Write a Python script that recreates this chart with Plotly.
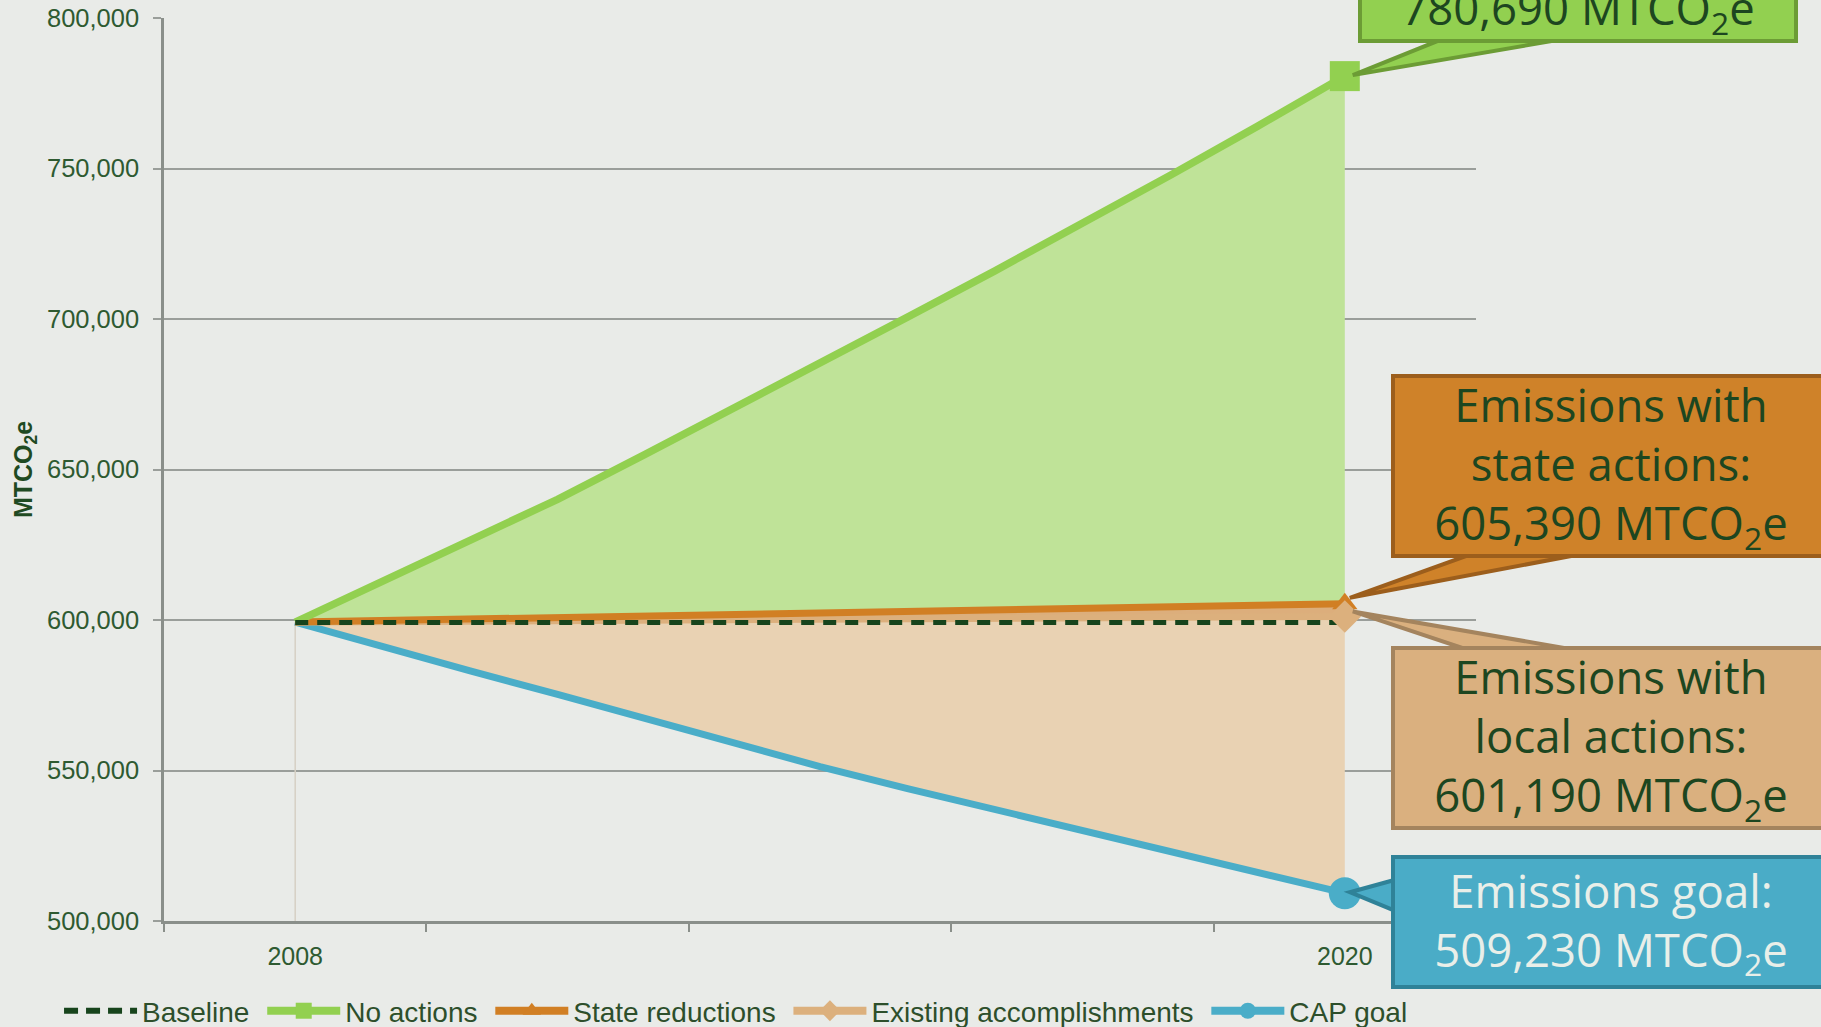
import plotly.graph_objects as go

# ---------------- data ----------------
years = [2008, 2009, 2010, 2011, 2012, 2013, 2014, 2015, 2016, 2017, 2018, 2019, 2020]
x_categories = [2007, 2008, 2009, 2010, 2011, 2012, 2013, 2014, 2015, 2016, 2017, 2018, 2019, 2020, 2021]
x_labels = ["2008", "2020"]

baseline = [599200, 599200, 599200, 599200, 599200, 599200, 599200, 599200, 599200, 599200, 599200, 599200, 599200]
no_actions = [599300, 612800, 626400, 640100, 655000, 670000, 685200, 700600, 716000, 731500, 747700, 764000, 780690]
state_reductions = [599300, 599800, 600300, 600800, 601400, 601900, 602400, 602900, 603400, 603900, 604400, 604900, 605390]
existing = [599300, 599450, 599600, 599800, 599950, 600100, 600250, 600400, 600550, 600700, 600850, 601000, 601190]
cap_goal = [599300, 591000, 583100, 575300, 567200, 559200, 551300, 544000, 537000, 530100, 523000, 516100, 509230]

y_ticks = [500000, 550000, 600000, 650000, 700000, 750000, 800000]

series_names = ["Baseline", "No actions", "State reductions", "Existing accomplishments", "CAP goal"]

callout_texts = [
    "Emissions with<br>no actions:<br>780,690 MTCO<sub>2</sub>e",
    "Emissions with<br>state actions:<br>605,390 MTCO<sub>2</sub>e",
    "Emissions with<br>local actions:<br>601,190 MTCO<sub>2</sub>e",
    "Emissions goal:<br>509,230 MTCO<sub>2</sub>e",
]

# ---------------- styles ----------------
BG = "#e9ebe8"
GREEN = "#92d050"
GREEN_FILL = "#bfe398"
ORANGE = "#d17f24"
TAN = "#dcb07d"
TAN_FILL = "#dcae7c"
BEIGE_FILL = "#e9d2b3"
BLUE = "#4aadc8"
DARK = "#17441c"
GRID = "#9a9e9a"
AXIS = "#8a8f8a"
TICK_TXT = "#2e5a31"
TXT_DARK = "#1d4620"

x_range = [x_categories[0] - 0.5, x_categories[-1] + 0.5]
y_range = [y_ticks[0], y_ticks[-1]]


def to_paper_x(v):
    return (v - x_range[0]) / (x_range[1] - x_range[0])


def to_paper_y(v):
    return (v - y_range[0]) / (y_range[1] - y_range[0])


fig = go.Figure()

# faint drop line at the first year
fig.add_trace(go.Scatter(x=[years[0], years[0]], y=[y_ticks[0], cap_goal[0]], mode="lines",
                         line=dict(color="#d6d0c4", width=1.5), showlegend=False, hoverinfo="skip"))
# CAP goal line (bottom of stacked fills)
fig.add_trace(go.Scatter(x=years, y=cap_goal, mode="lines", line=dict(color=BLUE, width=7),
                         showlegend=False, hoverinfo="skip"))
# Existing accomplishments (fill down to CAP goal)
fig.add_trace(go.Scatter(x=years, y=existing, mode="lines", line=dict(color=TAN, width=7),
                         fill="tonexty", fillcolor=BEIGE_FILL, showlegend=False, hoverinfo="skip"))
# State reductions (fill down to existing)
fig.add_trace(go.Scatter(x=years, y=state_reductions, mode="lines", line=dict(color=ORANGE, width=7),
                         fill="tonexty", fillcolor=TAN_FILL, showlegend=False, hoverinfo="skip"))
# No actions (fill down to state reductions)
fig.add_trace(go.Scatter(x=years, y=no_actions, mode="lines", line=dict(color=GREEN, width=7.5),
                         fill="tonexty", fillcolor=GREEN_FILL, showlegend=False, hoverinfo="skip"))
# Baseline dashed
fig.add_trace(go.Scatter(x=years, y=baseline, mode="lines", line=dict(color=DARK, width=5, dash="13px,9px"),
                         showlegend=False, hoverinfo="skip"))

# End-point markers
fig.add_trace(go.Scatter(x=[years[-1]], y=[no_actions[-1]], mode="markers",
                         marker=dict(symbol="square", size=30, color=GREEN), showlegend=False, hoverinfo="skip"))
fig.add_trace(go.Scatter(x=[years[-1]], y=[state_reductions[-1]], mode="markers",
                         marker=dict(symbol="triangle-up", size=22, color=ORANGE), showlegend=False, hoverinfo="skip"))
fig.add_trace(go.Scatter(x=[years[-1]], y=[existing[-1]], mode="markers",
                         marker=dict(symbol="diamond", size=25, color=TAN), showlegend=False, hoverinfo="skip"))
fig.add_trace(go.Scatter(x=[years[-1]], y=[cap_goal[-1]], mode="markers",
                         marker=dict(symbol="circle", size=32, color=BLUE), showlegend=False, hoverinfo="skip"))

# Legend-only entries
legend_styles = [
    dict(color=DARK, dash="14px,8px", width=6, symbol=None),
    dict(color=GREEN, dash="solid", width=8, symbol="square"),
    dict(color=ORANGE, dash="solid", width=8, symbol="triangle-up"),
    dict(color=TAN, dash="solid", width=8, symbol="diamond"),
    dict(color=BLUE, dash="solid", width=8, symbol="circle"),
]
NB = "\u00a0"
for name, st in zip(series_names, legend_styles):
    fig.add_trace(go.Scatter(
        x=[None], y=[None], name=name + NB,
        mode="lines" if st["symbol"] is None else "lines+markers",
        line=dict(color=st["color"], width=st["width"], dash=st["dash"]),
        marker=dict(symbol=st["symbol"] or "circle", size=17, color=st["color"]),
        showlegend=True, hoverinfo="skip"))

# ---------------- callouts ----------------
callouts = [
    dict(y=no_actions[-1], text=callout_texts[0], bg="#92d050", bd="#6c9c35", fc=TXT_DARK,
         xs=233, ys=33, ya="bottom", h=168, wedge="M8,1 L105,40 L236,40 Z"),
    dict(y=state_reductions[-1], text=callout_texts[1], bg="#cf8229", bd="#9c5e1c", fc=TXT_DARK,
         xs=266, ys=138, ya="middle", h=168, wedge="M5,6 L144,56 L270,56 Z"),
    dict(y=existing[-1], text=callout_texts[2], bg="#dab07f", bd="#a4845e", fc=TXT_DARK,
         xs=266, ys=-122, ya="middle", h=168, wedge="M8,5 L146,-41 L274,-41 Z"),
    dict(y=cap_goal[-1], text=callout_texts[3], bg="#4aacc7", bd="#2f8298", fc="#e9efe9",
         xs=266, ys=-29, ya="middle", h=118, wedge="M5,1 L56,15 L56,-20 Z"),
]
shapes = []
annotations = []
for c in callouts:
    shapes.append(dict(type="path", xref="paper", yref="paper", xsizemode="pixel", ysizemode="pixel",
                       xanchor=to_paper_x(years[-1]), yanchor=to_paper_y(c["y"]), path=c["wedge"],
                       fillcolor=c["bg"], line=dict(color=c["bd"], width=4), layer="above"))
    annotations.append(dict(x=years[-1], y=c["y"], xref="x", yref="y", text=c["text"],
                            showarrow=False, xanchor="center", yanchor=c["ya"],
                            xshift=c["xs"], yshift=c["ys"], width=424, height=c["h"], align="center",
                            valign="middle", bgcolor=c["bg"], bordercolor=c["bd"], borderwidth=4,
                            borderpad=4, font=dict(family="Open Sans", size=45.5, color=c["fc"])))

fig.update_layout(
    width=1821, height=1027,
    paper_bgcolor=BG, plot_bgcolor=BG,
    margin=dict(l=164, r=345, t=18, b=106, autoexpand=False),
    showlegend=True,
    legend=dict(orientation="h", x=-0.08, xanchor="left", y=-0.0997, yanchor="middle",
                font=dict(family="Liberation Sans", size=28, color="#2d4f2b"),
                itemwidth=73, bgcolor="rgba(0,0,0,0)", traceorder="normal"),
    xaxis=dict(range=x_range,
               tickvals=[years[0], years[-1]], ticktext=x_labels, ticks="",
               ticklabelstandoff=11,
               tickfont=dict(family="Liberation Sans", size=25, color=TICK_TXT),
               showgrid=False, zeroline=False, showline=True, linecolor=AXIS, linewidth=2.5,
               minor=dict(tick0=x_range[0], dtick=3, ticks="outside", ticklen=8,
                          tickwidth=2, tickcolor=AXIS, showgrid=False),
               fixedrange=True),
    yaxis=dict(range=y_range, tickvals=y_ticks, tickformat=",",
               ticks="outside", ticklen=8, tickwidth=2, tickcolor=GRID,
               ticklabelstandoff=9,
               tickfont=dict(family="Liberation Sans", size=25.5, color=TICK_TXT),
               showgrid=True, gridcolor=GRID, gridwidth=2, zeroline=False,
               showline=True, linecolor=AXIS, linewidth=2.5,
               title=dict(text="<b>MTCO<sub>2</sub>e</b>", standoff=8,
                          font=dict(family="Liberation Sans", size=25, color="#1f4a22")),
               fixedrange=True),
    shapes=shapes,
    annotations=annotations,
    hovermode=False,
)

fig.write_html("out.html", config={"displayModeBar": False},
               post_script="document.body.style.margin='0';document.body.style.overflow='hidden';")
